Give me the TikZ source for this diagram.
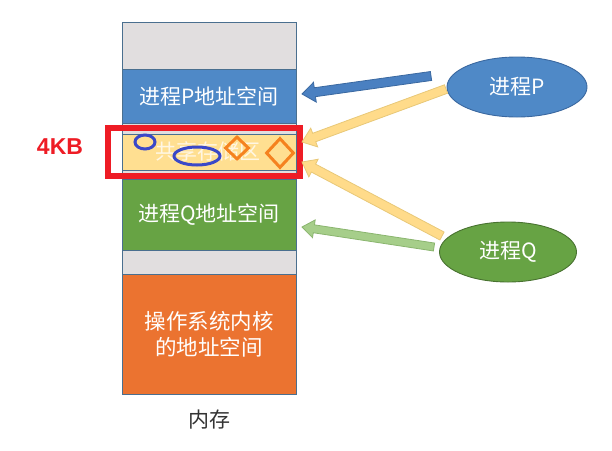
\documentclass[tikz,border=0pt]{standalone}
\usepackage{fontspec}
\setmainfont{Noto Sans CJK SC}
\newfontfamily\kbfont{Liberation Sans}
\usetikzlibrary{calc,shapes.geometric}
\definecolor{memgray}{HTML}{E1DEDF}
\definecolor{memline}{HTML}{4A6F8F}
\definecolor{pblue}{HTML}{4F89C7}
\definecolor{qgreen}{HTML}{67A344}
\definecolor{kern}{HTML}{EB7330}
\definecolor{shyellow}{HTML}{FFDF91}
\definecolor{arryellow}{HTML}{FFDB8A}
\definecolor{arryellowd}{HTML}{E8C878}
\definecolor{arrblue}{HTML}{4A80C1}
\definecolor{arrblued}{HTML}{3A68A0}
\definecolor{arrgreen}{HTML}{A6CE8A}
\definecolor{arrgreend}{HTML}{8AB56E}
\definecolor{markblue}{HTML}{3A48C8}
\definecolor{markorange}{HTML}{F5821F}
\definecolor{kbred}{HTML}{EE1C25}
\newcommand\blockarrow[7]{%
  \coordinate (bab) at ($(#2)!#7!(#1)$);
  \path[fill=#3,draw=#4,line width=0.8pt,line join=miter]
    ($(#1)!#5!90:(#2)$) -- ($(bab)!#5!90:(#2)$) -- ($(bab)!#6!90:(#2)$) -- (#2)
    -- ($(bab)!#6!-90:(#2)$) -- ($(bab)!#5!-90:(#2)$) -- ($(#1)!#5!-90:(#2)$) -- cycle;}
\begin{document}
\begin{tikzpicture}[x=1pt,y=-1pt,
  memblock/.style={draw=memline,line width=0.9pt,minimum width=174pt,inner sep=0pt,
    text=white,font=\fontsize{21}{26}\selectfont,align=center},
  proc/.style={ellipse,draw,line width=0.9pt,inner sep=0pt,text=white,font=\fontsize{21}{26}\selectfont},
  bluemark/.style={ellipse,draw=markblue,line width=3pt,inner sep=0pt},
  orangemark/.style={diamond,draw=markorange,line width=3pt,inner sep=0pt}]
\useasboundingbox (0,0) rectangle (612,450);
% memory column
\node[memblock,fill=memgray,minimum height=47pt] (g1) at (209,45.5) {};
\node[memblock,fill=pblue,minimum height=54pt] (pspace) at (209,96) {进程P地址空间};
\node[memblock,fill=memgray,minimum height=11pt] (g2) at (209,128.5) {};
\node[memblock,fill=shyellow,minimum height=36pt] (shared) at (209,152) {};
\node[memblock,fill=memgray,minimum height=9pt] (g3) at (209,174.5) {};
\node[memblock,fill=qgreen,minimum height=71pt] (qspace) at (209,214.5) {进程Q地址空间};
\node[memblock,fill=memgray,minimum height=24pt] (g4) at (209,262) {};
\node[memblock,fill=kern,minimum height=120pt,font=\fontsize{21.5}{26}\selectfont] (kernel) at (209,334) {操作系统内核\\的地址空间};
\node[text=white,opacity=0.75,font=\fontsize{21}{26}\selectfont] (sharedtxt) at (208,151) {共享存储区};
% marks
\node[bluemark,minimum width=20pt,minimum height=14pt] (m1) at (145,142) {};
\node[bluemark,minimum width=46pt,minimum height=18pt] (m2) at (197,156) {};
\node[orangemark,minimum width=24pt,minimum height=23pt] (m3) at (237,148) {};
\node[orangemark,minimum width=28pt,minimum height=30pt] (m4) at (280,153) {};
% red frame and label
\node[draw=kbred,line width=5.5pt,minimum width=192pt,minimum height=48pt,inner sep=0pt] (frame) at (204,152) {};
\node[text=kbred,font=\kbfont\bfseries\fontsize{23}{26}\selectfont] (kb) at (60,147) {4KB};
% processes
\node[proc,fill=pblue,draw=arrblued,minimum width=140pt,minimum height=60pt] (P) at (517,87) {进程P};
\node[proc,fill=qgreen,draw=qgreen!70!black,minimum width=137pt,minimum height=60pt] (Q) at (508,252) {进程Q};
\node[text=black!80,font=\fontsize{21}{26}\selectfont] (mem) at (209,420) {内存};
% arrows
\coordinate (tb) at (431,76);  \coordinate (hb) at (302,94);
\coordinate (typ) at (446,89); \coordinate (hyp) at (302,142);
\coordinate (tyq) at (442,236); \coordinate (hyq) at (302,162);
\coordinate (tg) at (434,247); \coordinate (hg) at (302,227);
\blockarrow{tb}{hb}{arrblue}{arrblued}{4.5pt}{10pt}{13pt}
\blockarrow{typ}{hyp}{arryellow}{arryellowd}{4.5pt}{10pt}{13pt}
\blockarrow{tyq}{hyq}{arryellow}{arryellowd}{4.5pt}{10pt}{13pt}
\blockarrow{tg}{hg}{arrgreen}{arrgreend}{4pt}{9pt}{12pt}
\end{tikzpicture}
\end{document}
